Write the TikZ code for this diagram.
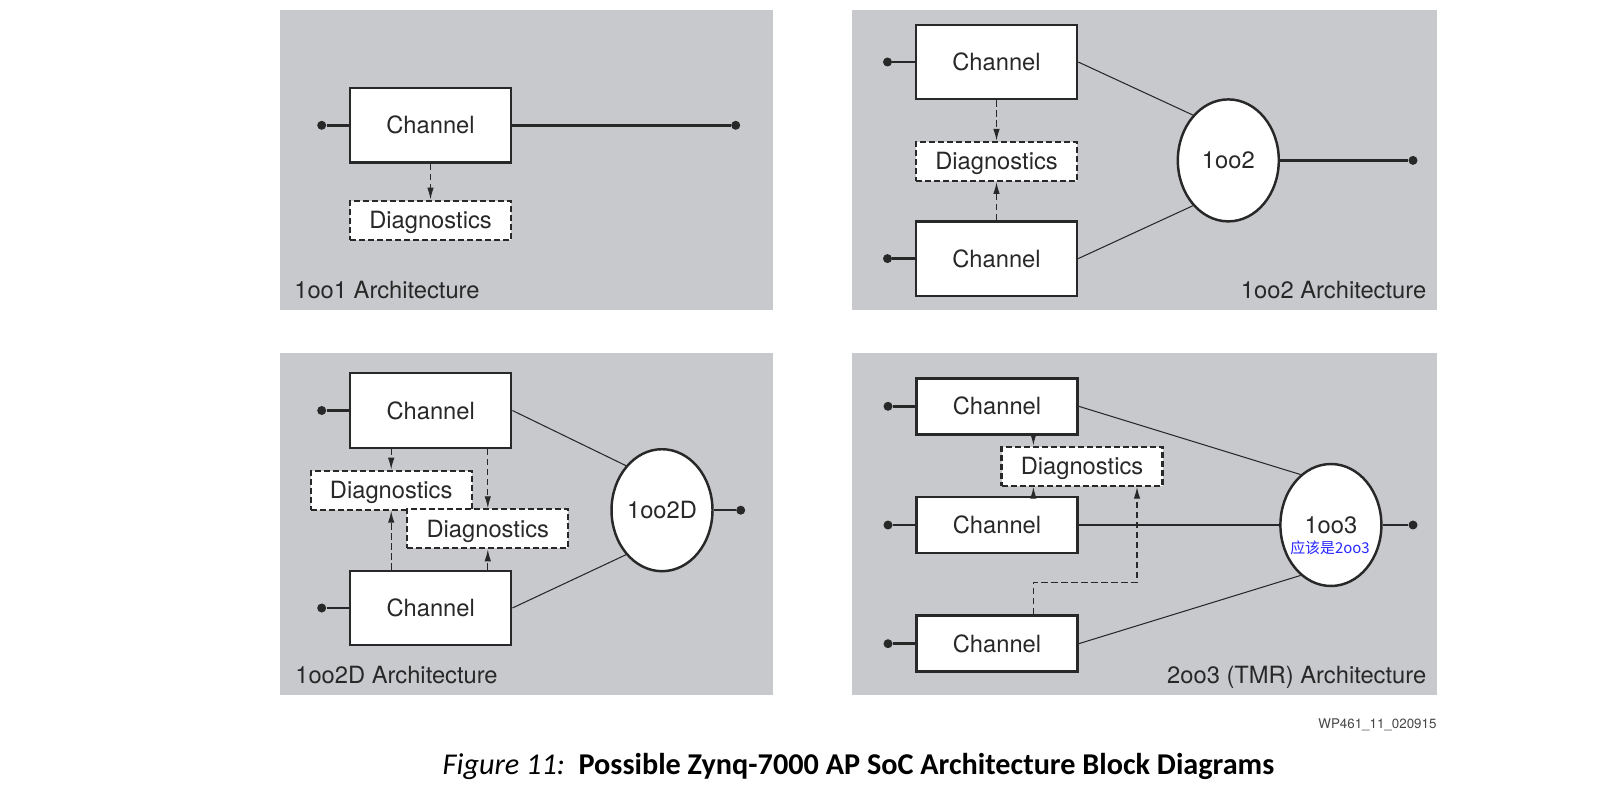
\documentclass[tikz,border=0pt]{standalone}
\usepackage{fontspec}
\setmainfont{TeX Gyre Heros}
\newfontfamily\capfont{Carlito}
\newfontfamily\cjkfont{Noto Sans CJK SC}
\usepackage{xcolor}
\definecolor{panelgray}{RGB}{200, 201, 204}
\definecolor{inkdark}{RGB}{40, 40, 40}
\definecolor{noteblue}{RGB}{40, 40, 255}
\definecolor{textmuted}{RGB}{70, 70, 70}
\usetikzlibrary{positioning, shapes.geometric, arrows.meta}

\begin{document}
\begin{tikzpicture}[x=0.02cm, y=-0.02cm,
    every node/.style={text=inkdark},
    chan/.style={draw=inkdark, fill=white, line width=1.4pt, inner sep=0pt,
        minimum width=3.22cm, minimum height=1.49cm, text height=9.7pt, text depth=0pt,
        font=\fontsize{13.5}{16}\selectfont},
    chanflat/.style={chan, minimum height=1.12cm},
    diagbox/.style={draw=inkdark, fill=white, line width=1.2pt, dash pattern=on 0.12cm off 0.06cm,
        inner sep=0pt, minimum width=3.22cm, minimum height=0.78cm, text height=9.7pt, text depth=0pt,
        font=\fontsize{13.5}{16}\selectfont},
    voter/.style={ellipse, draw=inkdark, fill=white, line width=1.4pt, inner sep=0pt,
        minimum width=2.02cm, minimum height=2.44cm, text height=9.7pt, text depth=0pt,
        font=\fontsize{13.5}{16}\selectfont},
    pin/.style={circle, fill=inkdark, inner sep=0pt, minimum size=0.18cm},
    wire/.style={draw=inkdark, line width=1.4pt},
    link/.style={draw=inkdark, line width=0.6pt},
    probe/.style={draw=inkdark, line width=0.7pt, dash pattern=on 0.13cm off 0.07cm,
        -{Latex[length=0.24cm, width=0.13cm]}},
    archlabel/.style={font=\fontsize{13.5}{16}\selectfont, inner sep=0pt}
]
    \useasboundingbox (0,0) rectangle (1622,793);

    % Panels
    \fill[panelgray] (280.3,10.3) rectangle (772.7,310.3);
    \fill[panelgray] (852.4,10.3) rectangle (1436.8,310.3);
    \fill[panelgray] (280.3,352.7) rectangle (772.7,694.5);
    \fill[panelgray] (852.4,352.7) rectangle (1436.8,694.5);

    % 1oo1
    \node[chan] (chA) at (430.5,125.3) {Channel};
    \node[diagbox] (dgA) at (430.5,220.2) {Diagnostics};
    \node[pin] (inA) at (321.7,125.3) {};
    \node[pin] (outA) at (735.7,125.3) {};
    \draw[wire] (inA) -- (chA);
    \draw[wire] (chA) -- (outA);
    \draw[probe] (chA) -- (dgA);
    \node[archlabel, anchor=base west] (lbA) at (294,298.8) {1oo1 Architecture};

    % 1oo2
    \node[chan] (chB1) at (996.5,62) {Channel};
    \node[chan] (chB2) at (996.5,258.6) {Channel};
    \node[diagbox] (dgB) at (996.5,161.4) {Diagnostics};
    \node[voter] (vtB) at (1228.3,160.4) {1oo2};
    \node[pin] (inB1) at (887.5,62) {};
    \node[pin] (inB2) at (887.5,258.6) {};
    \node[pin] (outB) at (1413,160.4) {};
    \draw[wire] (inB1) -- (chB1);
    \draw[wire] (inB2) -- (chB2);
    \draw[link] (chB1.east) -- (vtB.128);
    \draw[link] (chB2.east) -- (vtB.-128);
    \draw[wire] (vtB) -- (outB);
    \draw[probe] (chB1) -- (dgB);
    \draw[probe] (chB2) -- (dgB);
    \node[archlabel, anchor=base east] (lbB) at (1426.5,298.8) {1oo2 Architecture};

    % 1oo2D
    \node[chan] (chC1) at (430.7,410.5) {Channel};
    \node[chan] (chC2) at (430.7,608) {Channel};
    \node[diagbox] (dgC1) at (391.2,490.2) {Diagnostics};
    \node[diagbox] (dgC2) at (487.8,528.8) {Diagnostics};
    \node[voter] (vtC) at (662,510.2) {1oo2D};
    \node[pin] (inC1) at (321.7,410.5) {};
    \node[pin] (inC2) at (321.7,608) {};
    \node[pin] (outC) at (740.7,510.2) {};
    \draw[wire] (inC1) -- (chC1);
    \draw[wire] (inC2) -- (chC2);
    \draw[link] (chC1.east) -- (vtC.129);
    \draw[link] (chC2.east) -- (vtC.-129);
    \draw[wire] (vtC) -- (outC);
    \draw[probe] (chC1.south -| dgC1.north) -- (dgC1.north);
    \draw[probe] (chC1.south -| dgC2.north) -- (dgC2.north);
    \draw[probe] (chC2.north -| dgC1.south) -- (dgC1.south);
    \draw[probe] (chC2.north -| dgC2.south) -- (dgC2.south);
    \node[archlabel, anchor=base west] (lbC) at (295,683) {1oo2D Architecture};

    % 2oo3 (TMR)
    \node[chanflat] (chD1) at (997,406.3) {Channel};
    \node[chanflat] (chD2) at (997,525) {Channel};
    \node[chanflat] (chD3) at (997,643.7) {Channel};
    \node[diagbox] (dgD) at (1082,466.2) {Diagnostics};
    \node[voter] (vtD) at (1330.9,525) {1oo3};
    \node[font=\cjkfont\fontsize{8.5}{10}\selectfont, text=noteblue, inner sep=0pt] (noteD) at (1330,548.3) {应该是2oo3};
    \node[pin] (inD1) at (888,406.3) {};
    \node[pin] (inD2) at (888,525) {};
    \node[pin] (inD3) at (888,643.7) {};
    \node[pin] (outD) at (1413,525) {};
    \draw[wire] (inD1) -- (chD1);
    \draw[wire] (inD2) -- (chD2);
    \draw[wire] (inD3) -- (chD3);
    \draw[link] (chD1.east) -- (vtD.121);
    \draw[link] (chD2.east) -- (vtD.west);
    \draw[link] (chD3.east) -- (vtD.-121);
    \draw[wire] (vtD) -- (outD);
    \coordinate (tapD) at (1137,582.3);
    \draw[probe] ([xshift=0.728cm]chD1.south) -- ([xshift=0.728cm]chD1.south |- dgD.north);
    \draw[probe] ([xshift=0.728cm]chD2.north) -- ([xshift=0.728cm]chD2.north |- dgD.south);
    \draw[probe] ([xshift=0.728cm]chD3.north) |- (tapD) -- (tapD |- dgD.south);
    \node[archlabel, anchor=base east] (lbD) at (1426.5,683) {2oo3 (TMR) Architecture};

    % Tag & caption
    \node[font=\fontsize{7.6}{9}\selectfont, text=textmuted, anchor=east, inner sep=0pt] (tag) at (1436.8,724.5) {WP461\_11\_020915};
    \node[font=\capfont\fontsize{17.2}{20}\selectfont, text=black, anchor=base, inner sep=0pt] (caption) at (858.5,774.5)
        {{\itshape Figure 11:}\ \ {\bfseries Possible Zynq-7000 AP SoC Architecture Block Diagrams}};
\end{tikzpicture}
\end{document}
